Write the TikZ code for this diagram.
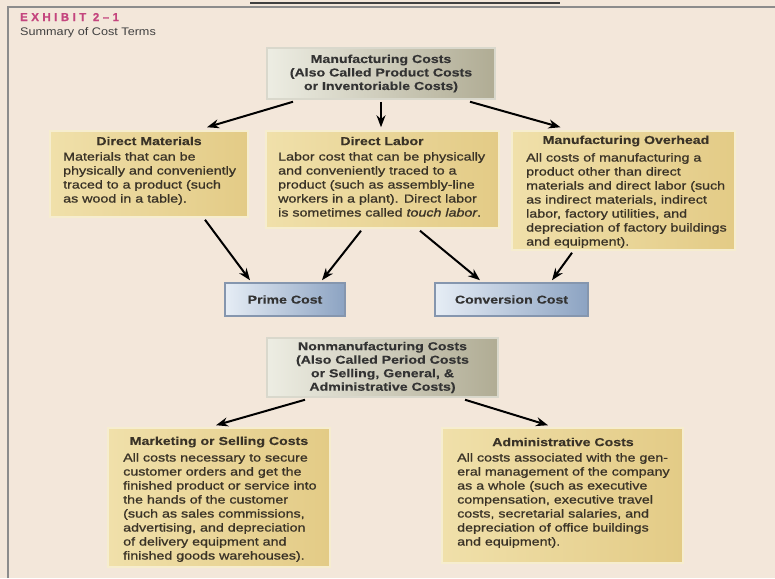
\documentclass[tikz,border=0pt]{standalone}
\usepackage{fontspec}
\setmainfont{Liberation Sans}
\newfontfamily\bodyfont[FakeStretch=1.24,FakeBold=1]{Liberation Sans}
\newfontfamily\ttlfont[FakeStretch=1.23,FakeBold=0.3]{Liberation Sans}
\newfontfamily\subfont[FakeStretch=1.15]{Liberation Sans}
\newfontfamily\exhfont[LetterSpace=30,FakeBold=0.6]{Liberation Sans}
\usetikzlibrary{arrows.meta}
\definecolor{bgc}{HTML}{F3E7DA}
\definecolor{yl}{HTML}{F0E0AA}
\definecolor{yr}{HTML}{E3CB86}
\definecolor{yb}{HTML}{F6EDCF}
\definecolor{gl}{HTML}{EDEDE3}
\definecolor{gr}{HTML}{B0AC94}
\definecolor{gb}{HTML}{D9D8CC}
\definecolor{bl}{HTML}{E6EDF5}
\definecolor{br}{HTML}{8CA3C2}
\definecolor{bb}{HTML}{8596AE}
\definecolor{txt}{HTML}{3A3327}
\definecolor{mag}{HTML}{C4457E}
\tikzset{
  boxbase/.style={rectangle, inner sep=0pt, line width=1.5pt},
  ybox/.style={boxbase, left color=yl, right color=yr, draw=yb},
  gbox/.style={boxbase, left color=gl, right color=gr, draw=gb, align=center,
    font=\ttlfont\bfseries\fontsize{11.5}{13.5}\selectfont, text=black!80},
  bbox/.style={boxbase, left color=bl, right color=br, draw=bb,
    font=\ttlfont\bfseries\fontsize{11.5}{13}\selectfont, text=black!80},
  arr/.style={-{Stealth[length=12pt,width=9pt]}, line width=2pt, black},
  ttl/.style={inner sep=0pt, font=\ttlfont\bfseries\fontsize{11.5}{13}\selectfont, text=txt},
  bdy/.style={inner sep=0pt, anchor=north west, align=left,
    font=\bodyfont\fontsize{11.5}{14}\selectfont, text=txt},
}
\begin{document}
\begin{tikzpicture}[x=1pt,y=-1pt]
\fill[bgc] (0,0) rectangle (775,578);
\useasboundingbox (0,0) rectangle (775,578);
\draw[black!45, line width=2pt] (7.5,578) -- (7.5,7.5) -- (775,7.5);
\draw[black!75, line width=1.5pt] (250,3) -- (560,3);

\node[anchor=west, inner sep=0pt, text=mag, font=\exhfont\bfseries\fontsize{11.5}{13}\selectfont] (exh) at (20,17) {EXHIBIT 2–1};
\node[anchor=west, inner sep=0pt, text=black!75, font=\subfont\fontsize{11}{13}\selectfont] (sub) at (20,33) {Summary of Cost Terms};

% boxes
\node[gbox, minimum width=228pt, minimum height=51pt] (mfg) at (381,73.5)
  {Manufacturing Costs\\(Also Called Product Costs\\or Inventoriable Costs)};
\node[ybox, minimum width=198pt, minimum height=86pt] (dm) at (149,174) {};
\node[ybox, minimum width=233pt, minimum height=97pt] (dl) at (382.5,179.5) {};
\node[ybox, minimum width=223pt, minimum height=119pt] (moh) at (623.5,190.5) {};
\node[bbox, minimum width=120pt, minimum height=33pt] (prime) at (285,299.5) {Prime Cost};
\node[bbox, minimum width=153pt, minimum height=33pt] (conv) at (511.5,299.5) {Conversion Cost};
\node[gbox, minimum width=231pt, minimum height=59pt] (non) at (382.5,367.5)
  {Nonmanufacturing Costs\\(Also Called Period Costs\\or Selling, General, \&\\Administrative Costs)};
\node[ybox, minimum width=222pt, minimum height=139pt] (mkt) at (219,497.5) {};
\node[ybox, minimum width=241pt, minimum height=135pt] (adm) at (562.5,495.5) {};

% titles
\node[ttl] (dmt) at (149,141) {Direct Materials};
\node[ttl] (dlt) at (382,141) {Direct Labor};
\node[ttl] (moht) at (626,141) {Manufacturing Overhead};
\node[ttl] (mktt) at (219,442) {Marketing or Selling Costs};
\node[ttl] (admt) at (563,442) {Administrative Costs};

% bodies
\node[bdy] (dmb) at (63,152) {Materials that can be\\physically and conveniently\\traced to a product (such\\as wood in a table).};
\node[bdy] (dlb) at (278,152) {Labor cost that can be physically\\and conveniently traced to a\\product (such as assembly-line\\workers in a plant). Direct labor\\is sometimes called \textit{touch labor}.};
\node[bdy] (mohb) at (526,153) {All costs of manufacturing a\\product other than direct\\materials and direct labor (such\\as indirect materials, indirect\\labor, factory utilities, and\\depreciation of factory buildings\\and equipment).};
\node[bdy] (mktb) at (123,453) {All costs necessary to secure\\customer orders and get the\\finished product or service into\\the hands of the customer\\(such as sales commissions,\\advertising, and depreciation\\of delivery equipment and\\finished goods warehouses).};
\node[bdy] (admb) at (457,453) {All costs associated with the gen-\\eral management of the company\\as a whole (such as executive\\compensation, executive travel\\costs, secretarial salaries, and\\depreciation of office buildings\\and equipment).};

% arrows
\draw[arr] ([xshift=-88pt,yshift=-2pt]mfg.south) -- ([xshift=58pt,yshift=3pt]dm.north);
\draw[arr] ([yshift=-2pt]mfg.south) -- ([xshift=-1.5pt,yshift=3pt]dl.north);
\draw[arr] ([xshift=89pt,yshift=-2pt]mfg.south) -- ([xshift=-63pt,yshift=3pt]moh.north);
\draw[arr] ([xshift=56pt,yshift=-2pt]dm.south) -- ([xshift=-35pt,yshift=2pt]prime.north);
\draw[arr] ([xshift=-21.5pt,yshift=-2pt]dl.south) -- ([xshift=37pt,yshift=2pt]prime.north);
\draw[arr] ([xshift=37.5pt,yshift=-2pt]dl.south) -- ([xshift=-31.5pt,yshift=2pt]conv.north);
\draw[arr] ([xshift=-51.5pt,yshift=-2pt]moh.south) -- ([xshift=40.5pt,yshift=2pt]conv.north);
\draw[arr] ([xshift=-77.5pt,yshift=-2pt]non.south) -- ([xshift=-3pt,yshift=2pt]mkt.north);
\draw[arr] ([xshift=82.5pt,yshift=-2pt]non.south) -- ([xshift=-14.5pt,yshift=2pt]adm.north);
\end{tikzpicture}
\end{document}
